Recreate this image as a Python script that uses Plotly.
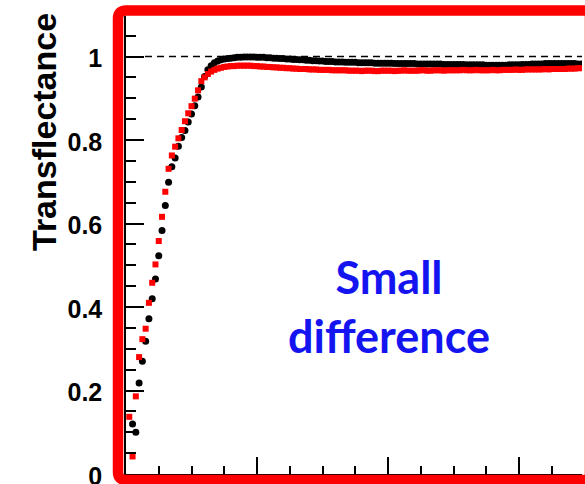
import plotly.graph_objects as go

# Sample positions along the horizontal axis (one sample every 0.025)
x_step = 0.025
n_samples = 139
x_vals = [round(x_step * k, 3) for k in range(1, n_samples + 1)]

# Black series (circles)
black_y = [
    None, 0.120, 0.100, 0.218, 0.270, 0.318, 0.372, 0.420, 0.467, 0.523,
    0.583, 0.643, 0.699, 0.736, 0.757, 0.785, 0.806, 0.823, 0.843, 0.862,
    0.882, 0.903, 0.927,
    0.952, 0.968, 0.978, 0.985, 0.989, 0.992, 0.994, 0.995, 0.996, 0.997,
    0.998, 0.998, 0.999, 0.999, 0.999, 0.999, 0.998,
    0.998, 0.998, 0.997, 0.997, 0.996, 0.996, 0.995, 0.995, 0.994, 0.994,
    0.993, 0.993, 0.992, 0.992, 0.991, 0.991, 0.990, 0.990, 0.989, 0.989,
    0.988, 0.988, 0.988, 0.987, 0.987, 0.987, 0.986, 0.986, 0.986, 0.986,
    0.985, 0.985, 0.985, 0.985, 0.985, 0.984, 0.984, 0.984, 0.984, 0.984,
    0.984, 0.983, 0.983, 0.983, 0.983, 0.983, 0.983, 0.983, 0.982, 0.982,
    0.982, 0.982, 0.982, 0.982, 0.982, 0.982, 0.981, 0.981, 0.981, 0.981,
    0.981, 0.981, 0.981, 0.980, 0.980, 0.980, 0.980, 0.980, 0.980, 0.979,
    0.979, 0.979, 0.979, 0.979, 0.979, 0.979, 0.980, 0.980, 0.980, 0.980,
    0.981, 0.981, 0.981, 0.982, 0.982, 0.982, 0.982, 0.983, 0.983, 0.983,
    0.983, 0.983, 0.983, 0.983, 0.983, 0.983, 0.983, 0.982, 0.982,
]

# Red series (squares)
red_y = [
    0.137, 0.042, 0.186, 0.280, 0.323, 0.348, 0.410, 0.458, 0.502, 0.558,
    0.616, 0.676, 0.731, 0.763, 0.784, 0.804, 0.824, 0.845, 0.864, 0.881,
    0.899, 0.919, 0.941,
    0.950, 0.958, 0.964, 0.968, 0.971, 0.973, 0.975, 0.976, 0.977, 0.977,
    0.978, 0.978, 0.978, 0.978, 0.978,
    0.977, 0.977, 0.976, 0.976, 0.975, 0.975, 0.974, 0.974, 0.973, 0.973,
    0.972, 0.972, 0.971, 0.971, 0.970, 0.970, 0.970, 0.969, 0.969, 0.969,
    0.968, 0.968, 0.968, 0.968, 0.967, 0.967, 0.967,
    0.967, 0.967, 0.966, 0.966, 0.966, 0.966, 0.965, 0.966, 0.966, 0.966,
    0.965, 0.965, 0.966, 0.966, 0.966, 0.966, 0.965, 0.966, 0.966, 0.967,
    0.966, 0.966, 0.966, 0.966, 0.967, 0.967, 0.966, 0.966, 0.967, 0.967,
    0.967, 0.966, 0.967, 0.967, 0.967,
    0.967, 0.967, 0.968, 0.967, 0.967, 0.967, 0.968, 0.967, 0.967, 0.967,
    0.967, 0.968, 0.967, 0.967, 0.968,
    0.968, 0.968, 0.968, 0.969, 0.968, 0.968, 0.969, 0.969, 0.969, 0.969,
    0.969, 0.969, 0.970, 0.969, 0.970, 0.970, 0.970,
    0.970, 0.970, 0.971, 0.971, 0.971, 0.972, 0.972,
]

y_tick_vals = [0, 0.2, 0.4, 0.6, 0.8, 1]
y_tick_text = ["0", "0.2", "0.4", "0.6", "0.8", "1"]
reference_level = 1.0

W, H = 585, 484
ML, MR, MT, MB = 126, 3, 16, 10
PW, PH = W - ML - MR, H - MT - MB


def px_to_paper(px, py):
    return (px - ML) / PW, (H - MB - py) / PH


fig = go.Figure()
fig.add_trace(go.Scatter(
    x=x_vals, y=black_y, mode="markers",
    marker=dict(symbol="circle", size=7, color="black", line=dict(width=0)),
    showlegend=False,
))
fig.add_trace(go.Scatter(
    x=x_vals, y=red_y, mode="markers",
    marker=dict(symbol="square", size=6, color="#ff0000", line=dict(width=0)),
    showlegend=False,
))

# Dashed reference line at unity
fig.add_shape(type="line", xref="x", yref="y", x0=0.145, x1=3.6,
              y0=reference_level, y1=reference_level,
              line=dict(color="black", width=1.3, dash="7px,5px"))

# Red rounded frame around the plot region
r = 8
pts = {"l": 118, "t": 10.5, "rt": 590, "b": 480}


def P(px, py):
    a, b = px_to_paper(px, py)
    return f"{a:.5f},{b:.5f}"


path = (
    f"M {P(pts['l'], pts['b'] - r)} "
    f"L {P(pts['l'], pts['t'] + r)} "
    f"Q {P(pts['l'], pts['t'])} {P(pts['l'] + r, pts['t'])} "
    f"L {P(pts['rt'], pts['t'])} "
    f"L {P(pts['rt'], pts['b'])} "
    f"L {P(pts['l'] + r, pts['b'])} "
    f"Q {P(pts['l'], pts['b'])} {P(pts['l'], pts['b'] - r)} Z"
)
fig.add_shape(type="path", xref="paper", yref="paper", path=path,
              line=dict(color="#ff0000", width=10.5), layer="above")

# Axis title
tx, ty = px_to_paper(44, 132)
fig.add_annotation(xref="paper", yref="paper", x=tx, y=ty, text="Transflectance",
                   textangle=-90, showarrow=False, xanchor="center", yanchor="middle",
                   font=dict(family="Liberation Sans", size=34, color="black", weight="bold"))

# Blue note inside the plot
nx, ny = px_to_paper(389, 306)
fig.add_annotation(xref="paper", yref="paper", x=nx, y=ny,
                   text="Small<br>difference", showarrow=False,
                   xanchor="center", yanchor="middle", align="center",
                   font=dict(family="Lato", size=45, color="#1414f0", weight="bold"))

fig.update_layout(
    width=W, height=H,
    margin=dict(l=ML, r=MR, t=MT, b=MB, autoexpand=False),
    paper_bgcolor="white", plot_bgcolor="white",
    xaxis=dict(
        range=[0, PW / 131.0], showgrid=False, zeroline=False, automargin=False,
        showline=True, linecolor="black", linewidth=1.5,
        ticks="inside", dtick=1, tick0=0, ticklen=17, tickwidth=1.5, tickcolor="black",
        minor=dict(ticks="inside", dtick=0.25, ticklen=8, tickwidth=1.5, tickcolor="black"),
        showticklabels=False,
    ),
    yaxis=dict(
        range=[0, PH / 417.5], showgrid=False, zeroline=False, automargin=False,
        showline=True, linecolor="black", linewidth=1.5,
        ticks="inside", tickvals=y_tick_vals, ticktext=y_tick_text,
        ticklen=18, tickwidth=1.5, tickcolor="black",
        minor=dict(ticks="inside", dtick=0.05, tick0=0, ticklen=10, tickwidth=1.5, tickcolor="black"),
        tickfont=dict(family="Liberation Sans", size=25, color="black", weight="bold"),
        ticklabelstandoff=17, ticklabeloverflow="allow", ticklabelshift=2,
    ),
)

fig.write_html("out.html")
